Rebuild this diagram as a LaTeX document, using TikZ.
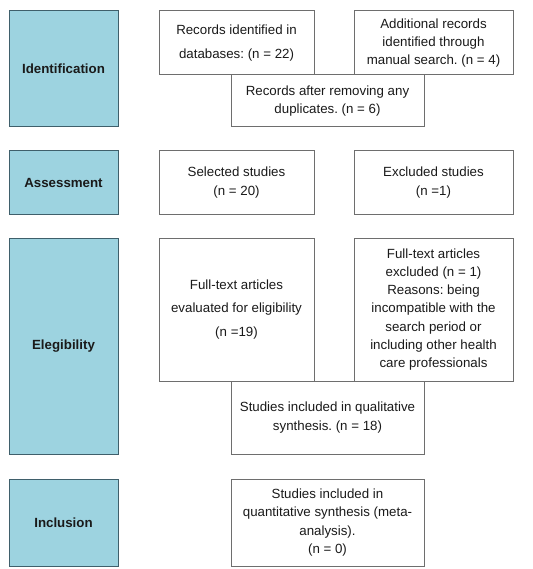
\documentclass[tikz,border=0pt]{standalone}
\usepackage{fontspec}
\setmainfont{Liberation Sans}
\frenchspacing
\definecolor{stagefill}{HTML}{9DD3E0}
\definecolor{stageline}{HTML}{3F5F6B}
\definecolor{boxline}{HTML}{6E6E6E}
\definecolor{txt}{HTML}{1A1A1A}
\begin{document}
\begin{tikzpicture}[x=1pt,y=-1pt,
  stage/.style={draw=stageline,fill=stagefill,line width=1pt,inner sep=0pt,
    font=\fontsize{13.3}{18}\selectfont\bfseries,text=txt},
  info/.style={draw=boxline,fill=white,line width=1pt,inner sep=0pt,align=center,
    font=\fontsize{13.3}{18.3}\selectfont\frenchspacing,text=txt}]
\useasboundingbox (0,0) rectangle (532,569);
% stage boxes
\node[stage,minimum width=109,minimum height=116] (s1) at (63.5,69) {Identification};
\node[stage,minimum width=109,minimum height=63] (s2) at (63.5,182.5) {Assessment};
\node[stage,minimum width=109,minimum height=216] (s3) at (63.5,346) {Elegibility};
\node[stage,minimum width=109,minimum height=87] (s4) at (63.5,522.5) {Inclusion};
% identification
\node[info,minimum width=193,minimum height=52] (dup) at (327.5,101) {Records after removing any\\duplicates. (n = 6)};
\node[info,minimum width=155,minimum height=64,font=\fontsize{13.3}{24.5}\selectfont\frenchspacing] (db) at (236.5,43) {Records identified in\\databases: (n = 22)};
\node[info,minimum width=159,minimum height=64] (man) at (433.5,43) {Additional records\\identified through\\manual search. (n = 4)};
% assessment
\node[info,minimum width=155,minimum height=63] (sel) at (236.5,182.5) {Selected studies\\(n = 20)};
\node[info,minimum width=159,minimum height=63] (exc) at (433.5,182.5) {Excluded studies\\(n =1)};
% eligibility
\node[info,minimum width=193,minimum height=73] (qual) at (327.5,417.5) {Studies included in qualitative\\synthesis. (n = 18)};
\node[info,minimum width=155,minimum height=143,font=\fontsize{13.3}{23.5}\selectfont\frenchspacing] (ft) at (236.5,309.5) {Full-text articles\\evaluated for eligibility\\(n =19)};
\node[info,minimum width=159,minimum height=143] (ftx) at (433.5,309.5) {Full-text articles\\excluded (n = 1)\\Reasons: being\\incompatible with the\\search period or\\including other health\\care professionals};
% inclusion
\node[info,minimum width=193,minimum height=87] (quant) at (327.5,522.5) {Studies included in\\quantitative synthesis (meta-\\analysis).\\(n = 0)};
\end{tikzpicture}
\end{document}
